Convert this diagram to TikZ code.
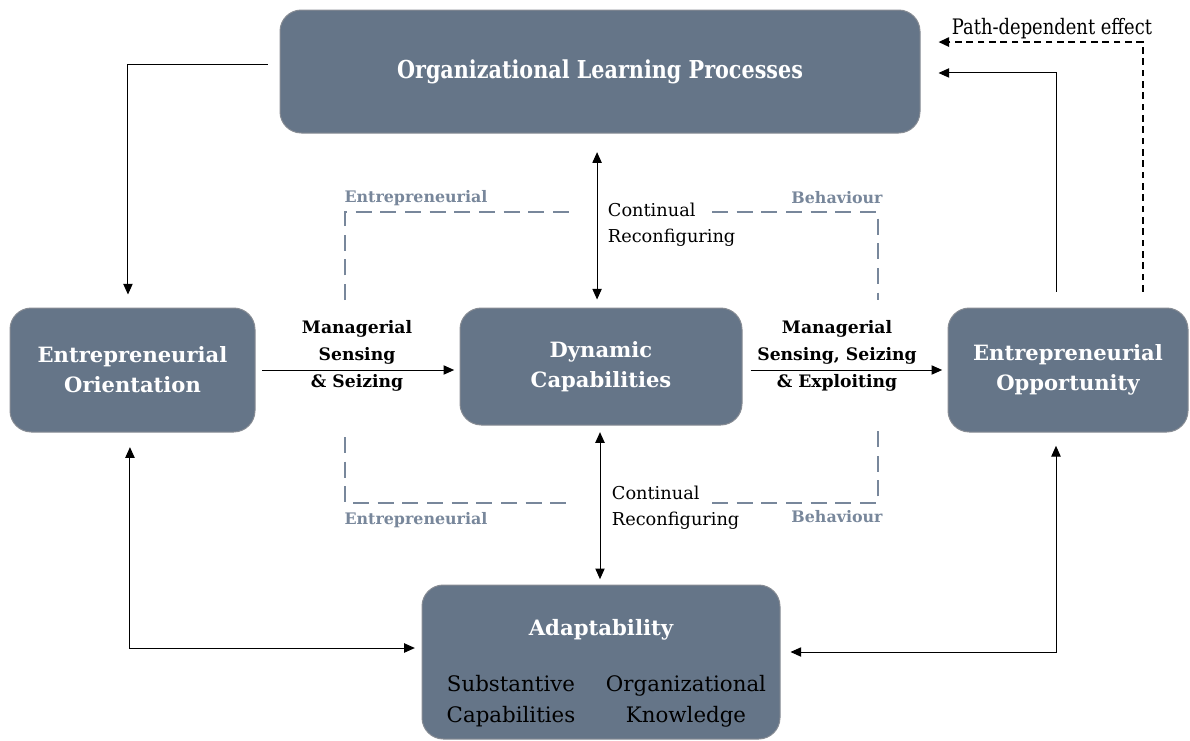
\documentclass[tikz,border=0pt]{standalone}
\usepackage{fontspec}
\setmainfont{DejaVu Serif}
\newfontfamily\condfont{DejaVu Serif}[FakeStretch=0.84]
\usetikzlibrary{arrows.meta}

\definecolor{boxfill}{RGB}{101,117,136}
\definecolor{boxline}{RGB}{135,140,148}
\definecolor{behav}{RGB}{120,135,155}

\tikzset{every picture/.style={line width=0.75pt}}
\tikzset{
  block/.style={draw=boxline, fill=boxfill, rounded corners=16pt, text=white,
    font=\bfseries\fontsize{15.8}{22.5}\selectfont, align=center, inner sep=0pt},
  arr/.style={-{Triangle[length=8pt,width=7pt]}},
  biarr/.style={{Triangle[length=8pt,width=7pt]}-{Triangle[length=8pt,width=7pt]}},
  lbl/.style={font=\bfseries\fontsize{12.9}{20}\selectfont, align=center},
  cont/.style={font=\fontsize{13.3}{19.5}\selectfont, align=left, anchor=west},
  behavtxt/.style={text=behav, font=\bfseries\fontsize{11.9}{13}\selectfont},
  behavline/.style={draw=behav, line width=1.9pt, dash pattern=on 12pt off 6.5pt}
}

\begin{document}
\begin{tikzpicture}[x=0.75pt,y=0.75pt,yscale=-1,xscale=1]
	\path[use as bounding box] (0,0) rectangle (1190,740);

	%Shape: Rounded Rect [id:olp] 
	\node[block, minimum width=480pt, minimum height=92.25pt, font=\condfont\bfseries\fontsize{18.5}{22}\selectfont] (olp) at (600,71.5) {Organizational Learning Processes};
	%Shape: Rounded Rect [id:eo] 
	\node[block, minimum width=183.75pt, minimum height=93pt] (eo) at (132.5,370) {Entrepreneurial\\Orientation};
	%Shape: Rounded Rect [id:dc] 
	\node[block, minimum width=211.5pt, minimum height=87.75pt] (dc) at (601,366.5) {Dynamic\\Capabilities};
	%Shape: Rounded Rect [id:eop] 
	\node[block, minimum width=180pt, minimum height=93pt] (eop) at (1068,370) {Entrepreneurial\\Opportunity};
	%Shape: Rounded Rect [id:ad] 
	\node[block, minimum width=268.5pt, minimum height=115.5pt] (ad) at (601,662) {};

	% Text Node
	\node[text=white, font=\bfseries\fontsize{15.9}{18}\selectfont] (adtitle) at (601,630) {Adaptability};
	% Text Node
	\node[font=\fontsize{16}{23.5}\selectfont, align=center] (adsub) at (511,701) {Substantive\\Capabilities};
	% Text Node
	\node[font=\fontsize{16}{23.5}\selectfont, align=center] (adorg) at (686,701) {Organizational\\Knowledge};

	%Dashed Lines [id:behaviour] 
	\draw[behavline] (345,300) -- (345,212) -- (572,212);
	\draw[behavline] (712,212) -- (878,212) -- (878,300);
	\draw[behavline] (345,437) -- (345,503) -- (570,503);
	\draw[behavline] (712,503) -- (878,503) -- (878,430);

	% Text Node
	\node[behavtxt] (entop) at (416,198) {Entrepreneurial};
	% Text Node
	\node[behavtxt] (behtop) at (837,198) {Behaviour};
	% Text Node
	\node[behavtxt] (enbot) at (416,520) {Entrepreneurial};
	% Text Node
	\node[behavtxt] (behbot) at (837,517) {Behaviour};

	%Straight Lines [id:olp-eo] 
	\draw[arr] ([xshift=-9pt,yshift=-4.9pt]olp.west) -| ([xshift=-3.4pt,yshift=-9.75pt]eo.north);
	%Straight Lines [id:eo-dc] 
	\draw[arr] ([xshift=5pt]eo.east) -- ([xshift=-4pt]eo.east -| dc.west);
	%Straight Lines [id:dc-eop] 
	\draw[arr] ([xshift=6pt]dc.east |- eop.west) -- ([xshift=-4pt]eop.west);
	%Straight Lines [id:olp-dc] 
	\draw[biarr] ([xshift=-2.2pt,yshift=14pt]olp.south) -- ([xshift=-2.2pt,yshift=-6pt]olp.south |- dc.north);
	%Straight Lines [id:dc-ad] 
	\draw[biarr] ([xshift=-0.75pt,yshift=5pt]dc.south) -- ([xshift=-0.75pt,yshift=-4pt]dc.south |- ad.north);
	%Straight Lines [id:eo-ad] 
	\draw[biarr] ([xshift=-1.9pt,yshift=11pt]eo.south) |- ([xshift=-5pt,yshift=-10.5pt]ad.west);
	%Straight Lines [id:eop-ad] 
	\draw[biarr] ([xshift=-9pt,yshift=10pt]eop.south) |- ([xshift=7.5pt,yshift=-7.5pt]ad.east);
	%Straight Lines [id:eop-olp] 
	\draw[arr] ([xshift=-9pt,yshift=-12pt]eop.north) |- ([xshift=13.5pt,yshift=1.1pt]olp.east);
	%Straight Lines [id:path] 
	\draw[arr, dashed, dash pattern=on 5pt off 3.5pt, line width=1.5pt] ([xshift=56.25pt,yshift=-12pt]eop.north) |- ([xshift=13.5pt,yshift=-22.1pt]olp.east);

	% Text Node
	\node[lbl] (sense) at (357,356) {Managerial\\Sensing\\\& Seizing};
	% Text Node
	\node[lbl] (exploit) at (837,356) {Managerial\\Sensing, Seizing\\\& Exploiting};
	% Text Node
	\node[cont] (conttop) at (603,225) {Continual\\Reconfiguring};
	% Text Node
	\node[cont] (contbot) at (607,508) {Continual\\Reconfiguring};
	% Text Node
	\node[font=\condfont\fontsize{16}{18}\selectfont] (pathlbl) at (1052,29) {Path-dependent effect};

\end{tikzpicture}
\end{document}
